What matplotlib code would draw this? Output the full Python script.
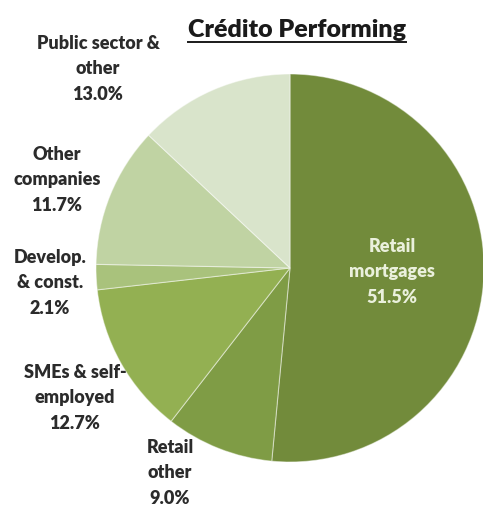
import matplotlib.pyplot as plt
from matplotlib.lines import Line2D

# Composição do crédito performing
segmentos = ["Retail\nmortgages", "Retail\nother", "SMEs & self-\nemployed",
             "Develop.\n& const.", "Other\ncompanies", "Public sector &\nother"]
valores = [51.5, 9.0, 12.7, 2.1, 11.7, 13.0]
cores = ["#728b3b", "#7f9c45", "#93b052", "#a9c27c", "#c0d3a3", "#d9e4cb"]

# posição (px) do centro de cada rótulo
pos_rotulos = [(392, 272), (170, 473), (75, 398), (50, 283), (57, 180), (98, 69)]

W, H = 483, 507
cx, cy, r = 290, 268, 194

fig = plt.figure(figsize=(W / 100, H / 100), dpi=100)
ax = fig.add_axes([(cx - r) / W, (H - cy - r) / H, 2 * r / W, 2 * r / H])

ax.pie(valores, colors=cores, startangle=90, counterclock=False,
       radius=1, wedgeprops=dict(edgecolor=(1, 1, 1, 0.45), linewidth=0.8))
ax.set_xlim(-1, 1)
ax.set_ylim(-1, 1)
ax.axis("off")

fonte = "Lato"
for i, (nome, v) in enumerate(zip(segmentos, valores)):
    px, py = pos_rotulos[i]
    cor = "#eaf0dc" if i == 0 else "#2b2b2b"
    fig.text(px / W, 1 - py / H, f"{nome}\n{v:.1f}%", ha="center", va="center",
             fontsize=13, fontweight="heavy", family=fonte, color=cor,
             linespacing=1.62)

titulo = fig.text(297 / W, 1 - 30 / H, "Crédito Performing", ha="center",
                  va="center", fontsize=18, fontweight="heavy", family=fonte,
                  color="#1a1a1a")

# sublinhado do título
fig.canvas.draw()
bb = titulo.get_window_extent().transformed(fig.transFigure.inverted())
y_sub = 1 - 42 / H
fig.add_artist(Line2D([bb.x0, bb.x1], [y_sub, y_sub], transform=fig.transFigure,
                      color="#1a1a1a", linewidth=1.4))

plt.savefig("out.png", dpi=100)
